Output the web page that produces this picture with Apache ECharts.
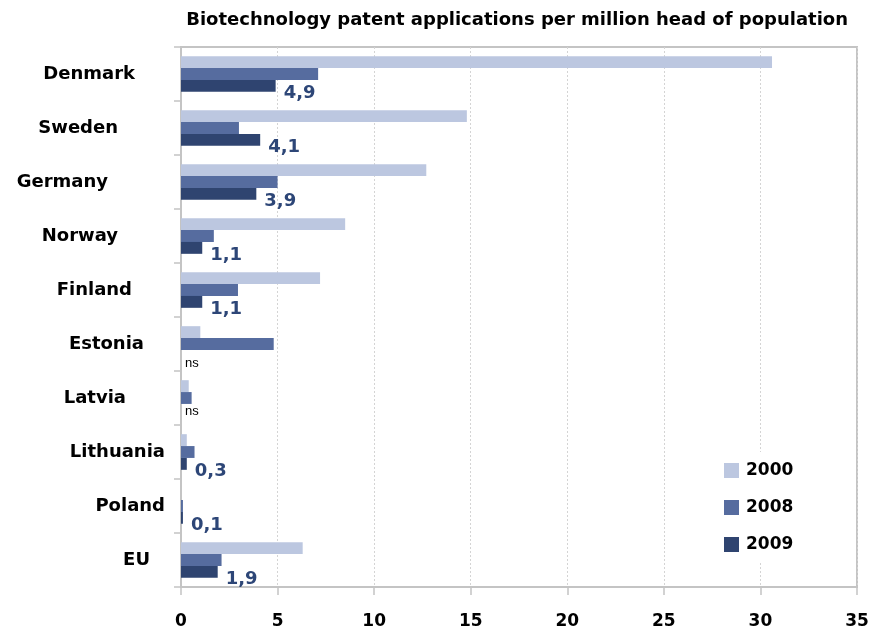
<!DOCTYPE html>
<html>
<head>
<meta charset="utf-8">
<script src="https://cdn.jsdelivr.net/npm/echarts@6/dist/echarts.min.js"></script>
<style>
html,body{margin:0;padding:0;background:#fff;}
#main{width:874px;height:637px;}
</style>
</head>
<body>
<div id="main"></div>
<script>
var categories = ['Denmark','Sweden','Germany','Norway','Finland','Estonia','Latvia','Lithuania','Poland','EU'];
var seriesNames = ['2000','2008','2009'];
var v2000 = [30.6, 14.8, 12.7, 8.5, 7.2, 1.0, 0.4, 0.3, 0, 6.3];
var v2008 = [7.1, 3.0, 5.0, 1.7, 2.95, 4.8, 0.55, 0.7, 0.1, 2.1];
var v2009 = [4.9, 4.1, 3.9, 1.1, 1.1, 0, 0, 0.3, 0.1, 1.9];
var labels2009 = ['4,9','4,1','3,9','1,1','1,1','ns','ns','0,3','0,1','1,9'];
var xTicks = [0, 5, 10, 15, 20, 25, 30, 35];

var FONT = 'DejaVu Sans';
var colors = ['#bcc7e0', '#566c9f', '#2f4470'];

// label right-padding per category (to mimic manual placement)
var catPad = {Denmark:30, Sweden:47, Germany:57, Norway:47, Finland:33, Estonia:21, Latvia:39, Lithuania:0, Poland:0, EU:15};
var rich = {};
categories.forEach(function(c, i){
  rich['c' + i] = {fontFamily: FONT, fontWeight: 'bold', fontSize: 18, color: '#000', padding: [0, catPad[c], 0, 0]};
});

var data2009 = v2009.map(function(v, i){
  var lab = labels2009[i];
  if (lab === 'ns') {
    return {value: v, label: {show: true, formatter: 'ns', color: '#000', fontWeight: 'normal', fontFamily: 'Liberation Sans', fontSize: 13, offset: [-4, i === 5 ? 8 : 2]}};
  }
  return {value: v};
});

var chart = echarts.init(document.getElementById('main'), null, {renderer: 'canvas'});
chart.setOption({
  backgroundColor: '#fff',
  animation: false,
  title: {
    text: 'Biotechnology patent applications per million head of population',
    right: 21, top: 6,
    textStyle: {fontFamily: FONT, fontWeight: 'bold', fontSize: 18, color: '#000'}
  },
  grid: {
    left: 181, right: 17, top: 47, bottom: 50,
    show: true, borderColor: '#c4c4c4', borderWidth: 2, backgroundColor: 'transparent'
  },
  legend: {
    data: seriesNames,
    orient: 'vertical',
    left: 714, top: 452,
    itemWidth: 15, itemHeight: 15, itemGap: 20,
    icon: 'rect',
    backgroundColor: '#fff',
    padding: [10, 14, 10, 10],
    textStyle: {fontFamily: FONT, fontWeight: 'bold', fontSize: 17, color: '#000', padding: [0, 0, 0, 2]}
  },
  xAxis: {
    type: 'value',
    min: 0, max: 35, interval: 5,
    axisLine: {show: true, lineStyle: {color: '#c4c4c4', width: 2}},
    axisTick: {show: true, length: 8, lineStyle: {color: '#c4c4c4', width: 1.5}},
    splitLine: {show: true, lineStyle: {color: '#d4d4d4', type: [2, 2], width: 1}},
    axisLabel: {
      margin: 26,
      fontFamily: FONT, fontWeight: 'bold', fontSize: 17, color: '#000',
      formatter: function(v){ return xTicks.indexOf(v) >= 0 ? String(v) : ''; }
    }
  },
  yAxis: {
    type: 'category',
    data: categories,
    inverse: true,
    axisLine: {show: true, lineStyle: {color: '#c4c4c4', width: 2}},
    axisTick: {show: true, length: 7, lineStyle: {color: '#c4c4c4', width: 1.5}},
    axisLabel: {
      margin: 16,
      formatter: function(v){ return '{c' + categories.indexOf(v) + '|' + v + '}'; },
      rich: rich
    }
  },
  series: [
    {
      name: '2000', type: 'bar', data: v2000,
      barCategoryGap: '34%', barGap: '0%',
      itemStyle: {color: colors[0]}
    },
    {
      name: '2008', type: 'bar', data: v2008,
      barGap: '0%',
      itemStyle: {color: colors[1]}
    },
    {
      name: '2009', type: 'bar', data: data2009,
      barGap: '0%',
      itemStyle: {color: colors[2]},
      label: {
        show: true, position: 'right', distance: 8, offset: [0, 7],
        fontFamily: FONT, fontWeight: 'bold', fontSize: 18, color: '#2d4677',
        formatter: function(p){ return labels2009[p.dataIndex]; }
      }
    }
  ]
});
</script>
</body>
</html>
